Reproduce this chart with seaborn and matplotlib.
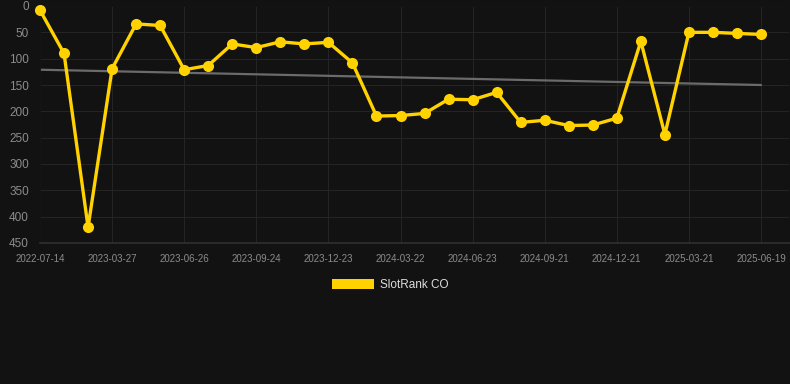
import numpy as np
import pandas as pd
import seaborn as sns
import matplotlib.pyplot as plt
from matplotlib.patches import Patch

ranks = [8, 90, 420, 119, 34, 37, 121, 113, 72, 79, 68, 72, 69, 108, 209,
         208, 204, 177, 178, 164, 221, 217, 227, 226, 213, 67, 244, 50, 50,
         52, 54]
tick_labels = ["2022-07-14", "2023-03-27", "2023-06-26", "2023-09-24",
               "2023-12-23", "2024-03-22", "2024-06-23", "2024-09-21",
               "2024-12-21", "2025-03-21", "2025-06-19"]
trend_ends = [121, 150]
series_name = "SlotRank CO"

bg = "#121212"
gold = "#FFD200"

df = pd.DataFrame({"idx": np.arange(len(ranks)), "rank": ranks})

sns.set_theme(style="dark", rc={
    "figure.facecolor": bg, "axes.facecolor": bg, "savefig.facecolor": bg,
    "axes.edgecolor": bg, "grid.color": "#242424",
})
plt.rcParams["font.family"] = ["Liberation Sans", "DejaVu Sans"]

fig = plt.figure(figsize=(7.9, 3.84), dpi=100)
ax = fig.add_axes([40 / 790, 1 - 243 / 384, 750 / 790, 237 / 384])

n = len(ranks) - 1
ax.plot([0, n], trend_ends, color="#6b6b6b", lw=1.6, zorder=2)
sns.lineplot(data=df, x="idx", y="rank", ax=ax, color=gold, lw=2.4,
             marker="o", markersize=8, markeredgewidth=0, zorder=3,
             clip_on=False)

ax.set_xlim(0, n * 750 / 721)
ax.set_ylim(450, 0)
ax.set_yticks(range(0, 451, 50))
ax.set_xticks(range(0, n + 1, 3))
ax.set_xticklabels(tick_labels)
ax.grid(True, color="#242424", lw=0.8)
ax.spines["bottom"].set_color("#2e2e2e")
ax.tick_params(axis="y", labelsize=8.5, labelcolor="#8c8c8c", length=0, pad=8)
ax.tick_params(axis="x", labelsize=7, labelcolor="#8c8c8c", length=4,
               color="#242424", pad=4)
ax.set_xlabel("")
ax.set_ylabel("")

fig.legend(handles=[Patch(facecolor=gold, edgecolor="none", label=series_name)],
           loc="center", bbox_to_anchor=(390 / 790, 1 - 285 / 384),
           frameon=False, fontsize=8.5, labelcolor="#dddddd",
           handlelength=3.6, handleheight=1.0, handletextpad=0.5)

fig.savefig("out.png", dpi=100)
